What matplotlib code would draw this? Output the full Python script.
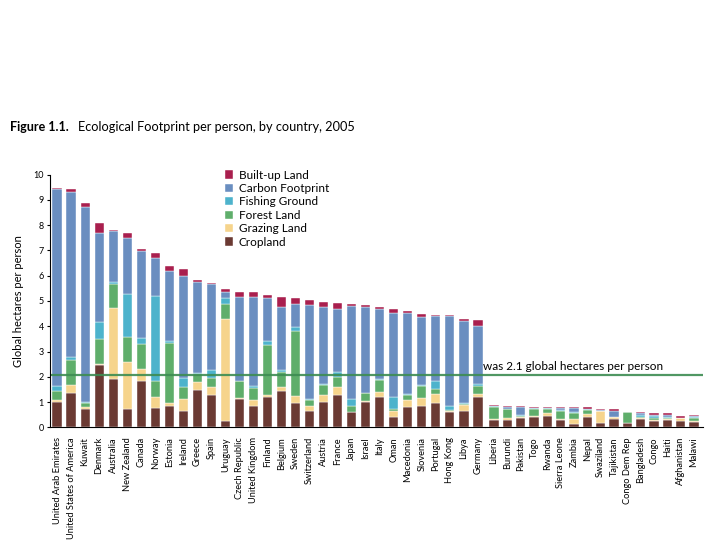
import numpy as np
import matplotlib
matplotlib.use("Agg")
import matplotlib.pyplot as plt

plt.rcParams['font.family'] = ['Lato', 'DejaVu Sans']

# paises con huella alta (panel izquierdo)
countries_hi = ["United Arab Emirates", "United States of America", "Kuwait", "Denmark",
                "Australia", "New Zealand", "Canada", "Norway", "Estonia", "Ireland",
                "Greece", "Spain", "Uruguay", "Czech Republic", "United Kingdom", "Finland",
                "Belgium", "Sweden", "Switzerland", "Austria", "France", "Japan", "Israel",
                "Italy", "Oman", "Macedonia", "Slovenia", "Portugal", "Hong Kong", "Libya",
                "Germany"]
crop_hi = [1.02, 1.37, 0.71, 2.47, 1.91, 0.73, 1.82, 0.77, 0.83, 0.63, 1.47, 1.28, 0.25,
           1.12, 0.86, 1.21, 1.45, 0.95, 0.66, 1.01, 1.28, 0.59, 0.99, 1.19, 0.42, 0.82,
           0.86, 0.95, 0.60, 0.66, 1.21]
grazing_hi = [0.05, 0.30, 0.08, 0.04, 2.82, 1.87, 0.50, 0.43, 0.13, 0.50, 0.33, 0.33, 4.05,
              0.03, 0.22, 0.07, 0.16, 0.30, 0.18, 0.27, 0.33, 0.03, 0.06, 0.22, 0.22, 0.26,
              0.31, 0.37, 0.03, 0.22, 0.09]
forest_hi = [0.36, 1.01, 0.18, 0.98, 0.94, 0.98, 0.98, 0.63, 2.37, 0.46, 0.30, 0.35, 0.58,
             0.68, 0.46, 1.98, 0.59, 2.57, 0.26, 0.38, 0.37, 0.22, 0.29, 0.45, 0.08, 0.18,
             0.48, 0.19, 0.06, 0.05, 0.33]
fishing_hi = [0.20, 0.12, 0.04, 0.68, 0.10, 1.70, 0.22, 3.35, 0.08, 0.38, 0.04, 0.32, 0.25,
              0.02, 0.08, 0.15, 0.05, 0.14, 0.04, 0.06, 0.20, 0.30, 0.03, 0.05, 0.46, 0.04,
              0.03, 0.34, 0.17, 0.03, 0.07]
carbon_hi = [7.82, 6.52, 7.73, 3.53, 1.99, 2.22, 3.45, 1.54, 2.79, 4.03, 3.61, 3.40, 0.22,
             3.30, 3.52, 1.69, 2.52, 0.94, 3.70, 3.05, 2.49, 3.67, 3.39, 2.76, 3.33, 3.21,
             2.67, 2.55, 3.56, 3.26, 2.32]
built_hi = [0.02, 0.10, 0.12, 0.37, 0.06, 0.18, 0.08, 0.18, 0.17, 0.26, 0.07, 0.05, 0.12,
            0.20, 0.20, 0.15, 0.39, 0.20, 0.18, 0.21, 0.26, 0.07, 0.07, 0.09, 0.17, 0.09,
            0.13, 0.05, 0.03, 0.05, 0.23]

# paises con huella baja (panel derecho)
countries_lo = ["Liberia", "Burundi", "Pakistan", "Togo", "Rwanda", "Sierra Leone", "Zambia",
                "Nepal", "Swaziland", "Tajikistan", "Congo Dem Rep", "Bangladesh", "Congo",
                "Haiti", "Afghanistan", "Malawi"]
crop_lo = [0.28, 0.30, 0.38, 0.41, 0.44, 0.29, 0.15, 0.41, 0.18, 0.32, 0.17, 0.34, 0.24, 0.30, 0.26, 0.21]
grazing_lo = [0.03, 0.06, 0.03, 0.03, 0.11, 0.03, 0.17, 0.10, 0.45, 0.09, 0.00, 0.02, 0.03, 0.04, 0.10, 0.02]
forest_lo = [0.49, 0.35, 0.05, 0.30, 0.19, 0.33, 0.26, 0.19, 0.00, 0.00, 0.42, 0.06, 0.09, 0.04, 0.00, 0.14]
fishing_lo = [0.03, 0.02, 0.04, 0.01, 0.01, 0.05, 0.02, 0.02, 0.01, 0.00, 0.03, 0.07, 0.08, 0.04, 0.00, 0.02]
carbon_lo = [0.01, 0.07, 0.31, 0.03, 0.01, 0.05, 0.16, 0.02, 0.03, 0.24, 0.00, 0.07, 0.06, 0.07, 0.02, 0.05]
built_lo = [0.03, 0.04, 0.05, 0.03, 0.05, 0.04, 0.05, 0.06, 0.07, 0.08, 0.00, 0.06, 0.05, 0.06, 0.08, 0.05]

biocap = 2.06  # biocapacidad mundial (linea verde)

names = ["Cropland", "Grazing Land", "Forest Land", "Fishing Ground", "Carbon Footprint", "Built-up Land"]
colors = ["#6b3a33", "#f6d48c", "#5fae6b", "#4db3cc", "#6a8ec0", "#a91f4e"]

fig = plt.figure(figsize=(7.2, 5.4), dpi=100)

ax1 = fig.add_axes([50/720, 1-427.3/540, 435/720, 252.6/540])
ax2 = fig.add_axes([485/720, 1-427.3/540, 218/720, 252.6/540])


def stack(ax, series, labels_x, width):
    x = np.arange(len(labels_x))
    bottom = np.zeros(len(labels_x))
    for s, n, c in zip(series, names, colors):
        s = np.array(s)
        ax.bar(x, s, width, bottom=bottom, color=c, label=n, edgecolor="white", linewidth=0.3)
        bottom += s
    ax.set_xticks(x)
    ax.set_xticklabels(labels_x, rotation=90, fontsize=6.7)
    ax.tick_params(axis="x", length=0, pad=7)
    ax.axhline(biocap, color="#3d8c52", linewidth=1.6, alpha=0.9)
    ax.set_ylim(0, 10)
    for sp in ["top", "right"]:
        ax.spines[sp].set_visible(False)


stack(ax1, [crop_hi, grazing_hi, forest_hi, fishing_hi, carbon_hi, built_hi], countries_hi, 0.65)
stack(ax2, [crop_lo, grazing_lo, forest_lo, fishing_lo, carbon_lo, built_lo], countries_lo, 0.68)

ax1.set_xlim(-0.5, len(countries_hi) - 0.5)
ax1.set_yticks(range(0, 11))
ax1.tick_params(axis="y", labelsize=6.5, length=2.5, width=0.8, pad=2)
ax1.set_ylabel("Global hectares per person", fontsize=8, labelpad=7)

ax2.set_xlim(-0.675, len(countries_lo) - 0.325)
ax2.spines["left"].set_visible(False)
ax2.set_yticks([])

# leyenda en orden inverso
h, l = ax1.get_legend_handles_labels()
fig.legend(h[::-1], l[::-1], loc="upper left", bbox_to_anchor=(220/720, 1-165/540),
           frameon=False, fontsize=8.5, handlelength=0.7, handleheight=0.7,
           handletextpad=0.5, labelspacing=0.2, borderaxespad=0)

fig.text(483/720, 1-366/540, "was 2.1 global hectares per person", fontsize=8.5, va="center")

fig.text(10/720, 1-127/540, "Figure 1.1.", fontsize=9, fontweight="bold", va="center")
fig.text(78/720, 1-127/540, "Ecological Footprint per person, by country, 2005", fontsize=9.2, va="center")

fig.savefig("out.png", dpi=100)
